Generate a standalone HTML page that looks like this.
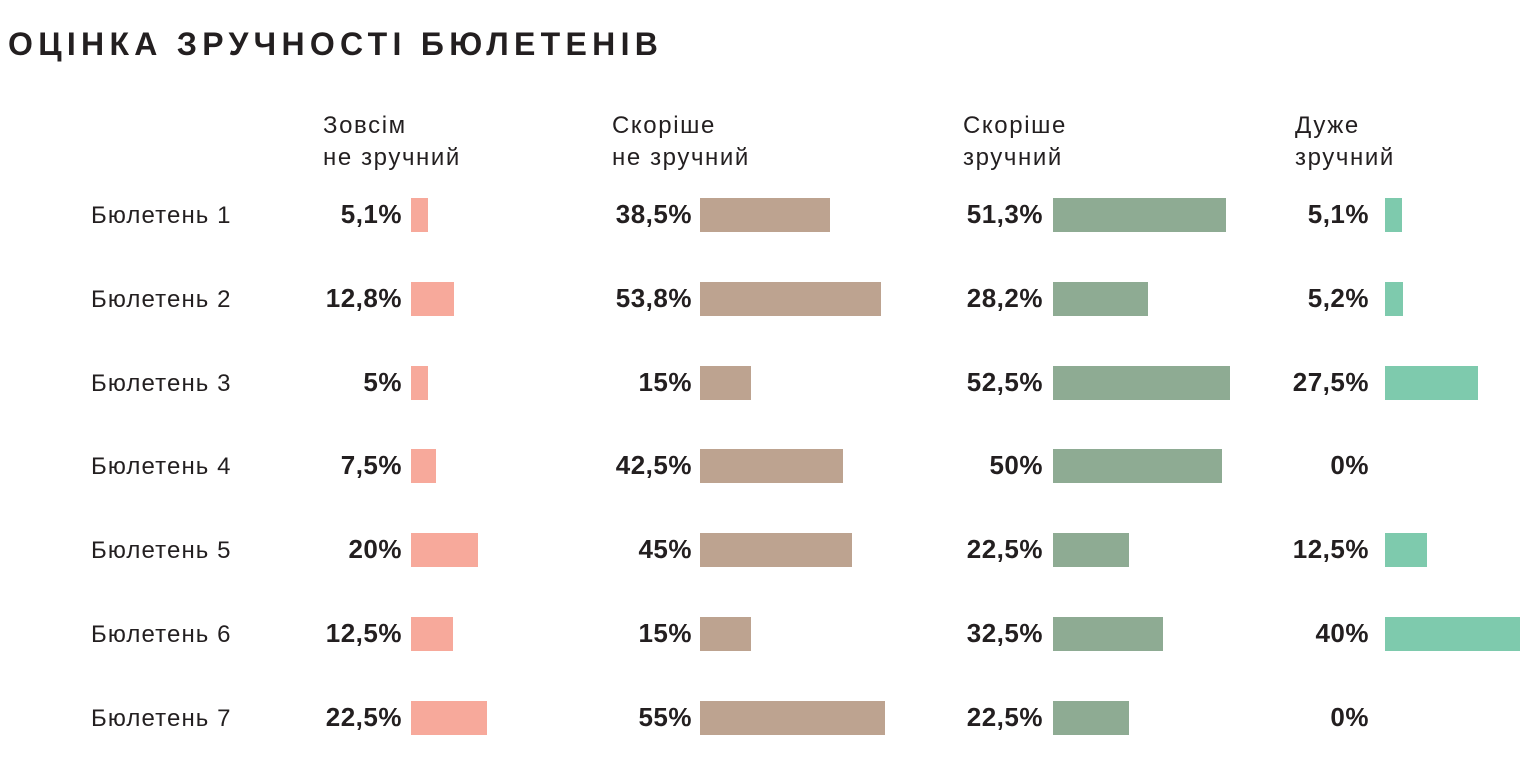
<!DOCTYPE html>
<html><head><meta charset="utf-8"><style>
body{margin:0;width:1534px;height:771px;background:#fff;position:relative;font-family:"Liberation Sans","DejaVu Sans",sans-serif;color:#231f20;overflow:hidden}
.t{position:absolute;left:8px;top:26px;font-size:32px;font-weight:bold;letter-spacing:5.3px}
.h{position:absolute;font-size:24px;line-height:32px;top:110px;letter-spacing:1.6px}
.l{position:absolute;left:91px;font-size:24px;letter-spacing:1.1px}
.v{position:absolute;font-size:26px;font-weight:bold;text-align:right;width:120px;letter-spacing:0.5px}
.b{position:absolute;height:34px}
</style></head><body>
<div class="t">ОЦІНКА ЗРУЧНОСТІ БЮЛЕТЕНІВ</div>
<div class="h" style="left:323px">Зовсім<br>не зручний</div>
<div class="h" style="left:612px">Скоріше<br>не зручний</div>
<div class="h" style="left:963px">Скоріше<br>зручний</div>
<div class="h" style="left:1295px">Дуже<br>зручний</div>
<script>
var d=[[5.1,38.5,51.3,5.1],[12.8,53.8,28.2,5.2],[5,15,52.5,27.5],[7.5,42.5,50,0],[20,45,22.5,12.5],[12.5,15,32.5,40],[22.5,55,22.5,0]];
var bx=[411,700,1053,1385],ve=[402,692,1043,1369],c=['#f7a99b','#bda390','#8eab93','#7ecaad'];
var h='';
d.forEach(function(r,i){var y=215+i*83.8;
h+='<div class="l" style="top:'+(y-13)+'px">Бюлетень '+(i+1)+'</div>';
r.forEach(function(v,j){
h+='<div class="v" style="left:'+(ve[j]-120)+'px;top:'+(y-16)+'px">'+String(v).replace('.',',')+'%</div>';
if(v>0)h+='<div class="b" style="left:'+bx[j]+'px;top:'+(y-17)+'px;width:'+(v*3.37)+'px;background:'+c[j]+'"></div>';
});});
document.write(h);
</script>
</body></html>
